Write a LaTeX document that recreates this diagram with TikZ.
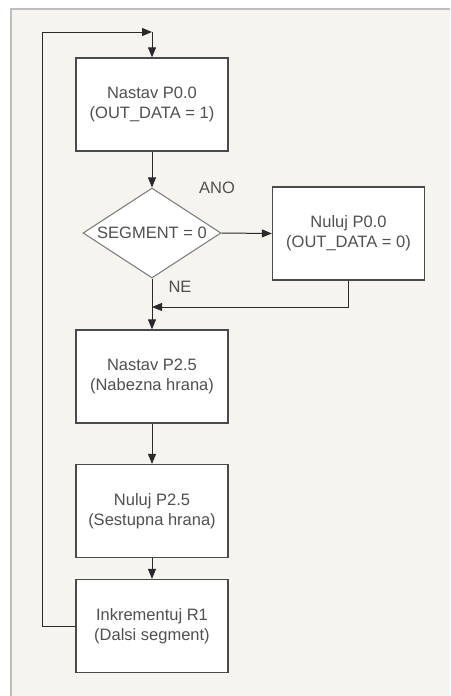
\documentclass[tikz,border=0pt]{standalone}
\usepackage{fontspec}
\setmainfont{Liberation Sans}
\usetikzlibrary{
    arrows.meta,
    shapes.geometric
}
\definecolor{bgcol}{HTML}{F6F4EE}
\definecolor{framecol}{HTML}{BDBDBD}
\definecolor{boxline}{HTML}{4A4A4A}
\definecolor{txtcol}{HTML}{505050}
\definecolor{wirecol}{HTML}{2A2A2A}

\begin{document}
\begin{tikzpicture}[x=1pt,y=-1pt,
    stepbox/.style={draw=boxline, fill=white, line width=1.3pt,
        minimum width=152pt, minimum height=93pt, inner sep=0pt,
        align=center, text=txtcol, font=\fontsize{16.5}{20}\selectfont},
    decision/.style={draw=boxline!70, fill=white, line width=1.1pt,
        diamond, minimum width=138pt, minimum height=90pt, inner sep=0pt},
    lbl/.style={text=txtcol, inner sep=0pt, font=\fontsize{16.5}{20}\selectfont},
    arr/.style={draw=wirecol, line width=1pt, -{Triangle[length=10pt,width=8pt]}},
]

% Page background and frame
\useasboundingbox (0,0) rectangle (450,696);
\fill[bgcol] (11,9) rectangle (450,696);
\draw[framecol, line width=1.5pt] (11,696) -- (11,9) -- (450,9);

% Main column of steps
\node[stepbox] (set0) at (152,104.5) {Nastav P0.0\\(OUT\_DATA = 1)};
\node[decision] (seg) at (152,233) {};
\node[lbl] (segtxt) at (seg) {SEGMENT = 0};
\node[stepbox] (clr0) at (348.5,233.5) {Nuluj P0.0\\(OUT\_DATA = 0)};
\node[stepbox] (set25) at (152,376.5) {Nastav P2.5\\(Nabezna hrana)};
\node[stepbox] (clr25) at (152,511) {Nuluj P2.5\\(Sestupna hrana)};
\node[stepbox] (incr) at (152,626) {Inkrementuj R1\\(Dalsi segment)};

% Branch labels
\node[lbl] (yes) at (217,188) {ANO};
\node[lbl] (no) at (180,287) {NE};

% Helper points
\coordinate (top) at (152,32);
\coordinate (merge) at (152,307);

% Connectors
\draw[arr] (set0.south) -- (seg.north);
\draw[arr] (seg.east) -- (clr0.west);
\draw[arr] (clr0.south) |- (merge);
\draw[arr] (seg.south) -- (set25.north);
\draw[arr] (set25.south) -- (clr25.north);
\draw[arr] (clr25.south) -- (incr.north);

% Loop back to the start
\draw[arr] (incr.west) -- (42,626) |- (top);
\draw[arr] (top) -- (set0.north);

\end{tikzpicture}
\end{document}
